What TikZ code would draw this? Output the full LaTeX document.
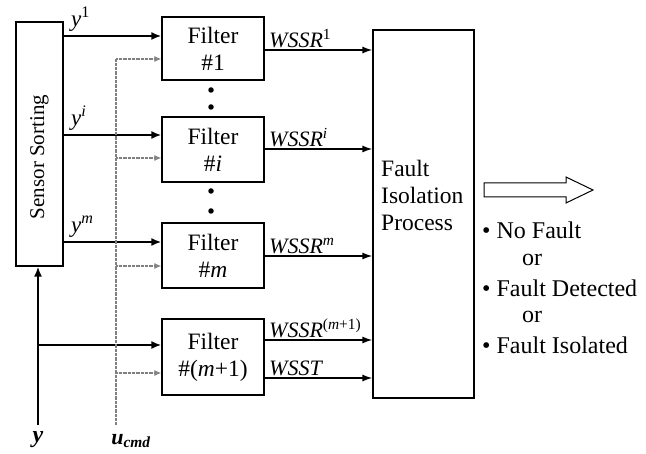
\documentclass[tikz,border=0pt]{standalone}
\usepackage{fontspec}
\setmainfont{Liberation Serif}
\usetikzlibrary{arrows.meta}
\begin{document}
\begin{tikzpicture}[x=1pt,y=-1pt,
  box/.style={draw,line width=1.2pt,inner sep=0pt,align=center,font=\fontsize{23.5}{27}\selectfont},
  sarrow/.style={line width=2.2pt,-{Latex[length=10pt,width=8pt]}},
  warrow/.style={line width=1.5pt,-{Latex[length=10pt,width=7pt]}},
  dline/.style={gray,line width=1.6pt,dash pattern=on 0.8pt off 0.5pt},
  darrow/.style={dline,-{Latex[open,length=7pt,width=6pt,sep=0pt]}},
  lab/.style={font=\fontsize{22}{26}\selectfont,inner sep=1pt},
  olab/.style={font=\fontsize{24}{28}\selectfont,inner sep=1pt},
  blab/.style={font=\fontsize{22}{26}\selectfont\bfseries,inner sep=1pt},
  dotn/.style={circle,fill,inner sep=0pt,minimum size=5.5pt}]
\useasboundingbox (0,0) rectangle (646,454);
% boxes
\node[box,minimum width=47pt,minimum height=244pt] (sensor) at (39.5,144) {};
\node[rotate=90,font=\fontsize{21}{25}\selectfont] (sst) at (39.5,157) {Sensor Sorting};
\node[box,minimum width=102pt,minimum height=63pt] (f1) at (213,48.5) {Filter\\\#1};
\node[box,minimum width=102pt,minimum height=65pt] (fi) at (213,149.5) {Filter\\\#\textit{i}};
\node[box,minimum width=102pt,minimum height=65pt] (fm) at (213,255.5) {Filter\\\#\textit{m}};
\node[box,minimum width=102pt,minimum height=76pt] (fm1) at (213,357) {Filter\\\#(\textit{m}+1)};
\node[box,minimum width=101pt,minimum height=368pt] (fip) at (423.5,214) {};
\node[font=\fontsize{23.5}{27}\selectfont,align=left,anchor=west,inner sep=0pt] (fipt) at (381,195) {Fault\\Isolation\\Process};
% dots
\node[dotn] (d1) at (211,90) {};
\node[dotn] (d2) at (211,107) {};
\node[dotn] (d3) at (211,191) {};
\node[dotn] (d4) at (211,211) {};
% sensor outputs
\draw[sarrow] (sensor.east |- 0,36) -- (f1.west |- 0,36);
\draw[sarrow] (sensor.east |- 0,135) -- (fi.west |- 0,135);
\draw[sarrow] (sensor.east |- 0,242) -- (fm.west |- 0,242);
\node[lab,font=\fontsize{23}{26}\selectfont,anchor=south west] (ly1) at (70,33) {\textit{y}\textsuperscript{1}};
\node[lab,font=\fontsize{23}{26}\selectfont,anchor=south west] (lyi) at (70,132) {\textit{y}\textsuperscript{\textit{i}}};
\node[lab,font=\fontsize{23}{26}\selectfont,anchor=south west] (lym) at (70,239) {\textit{y}\textsuperscript{\textit{m}}};
% y input
\coordinate (yb) at (38,425);
\coordinate (yj) at (38,345);
\draw[sarrow] (yb) -- (sensor.south -| yb);
\draw[sarrow] (yj) -- (fm1.west |- yj);
\node[blab,font=\fontsize{24}{28}\selectfont\bfseries\itshape] (ly) at (38,440) {y};
% u_cmd
\coordinate (ub) at (116,425);
\coordinate (u1) at (116,59);
\coordinate (ui) at (116,158);
\coordinate (um) at (116,266);
\coordinate (um1) at (116,373);
\draw[dline] (ub) -- (u1);
\draw[darrow] (u1) -- (f1.west |- u1);
\draw[darrow] (ui) -- (fi.west |- ui);
\draw[darrow] (um) -- (fm.west |- um);
\draw[darrow] (um1) -- (fm1.west |- um1);
\node[blab] (lu) at (131,441) {\textit{u}\textsubscript{\textit{cmd}}};
% WSSR
\draw[warrow] (f1.east |- 0,50) -- (fip.west |- 0,50);
\draw[warrow] (fi.east |- 0,149) -- (fip.west |- 0,149);
\draw[warrow] (fm.east |- 0,256) -- (fip.west |- 0,256);
\draw[warrow] (fm1.east |- 0,340) -- (fip.west |- 0,340);
\draw[warrow] (fm1.east |- 0,378) -- (fip.west |- 0,378);
\node[lab,anchor=south west] (w1) at (268,49) {\textit{WSSR}\textsuperscript{1}};
\node[lab,anchor=south west] (wi) at (268,148) {\textit{WSSR}\textsuperscript{\textit{i}}};
\node[lab,anchor=south west] (wm) at (268,255) {\textit{WSSR}\textsuperscript{\textit{m}}};
\node[lab,anchor=south west] (wm1) at (268,339) {\textit{WSSR}\textsuperscript{(\textit{m}+1)}};
\node[lab,anchor=south west] (wt) at (268,377) {\textit{WSST}};
% hollow arrow
\draw[line width=1pt] (484,183) -- (566,183) -- (566,177) -- (593,190) -- (566,203) -- (566,197) -- (484,197) -- cycle;
% outcomes
\node[olab,anchor=west] (o1) at (481,230) {• No Fault};
\node[olab,anchor=west] (o2) at (521,260) {or};
\node[olab,anchor=west] (o3) at (481,288) {• Fault Detected};
\node[olab,anchor=west] (o4) at (521,317) {or};
\node[olab,anchor=west] (o5) at (481,345) {• Fault Isolated};
\end{tikzpicture}
\end{document}
